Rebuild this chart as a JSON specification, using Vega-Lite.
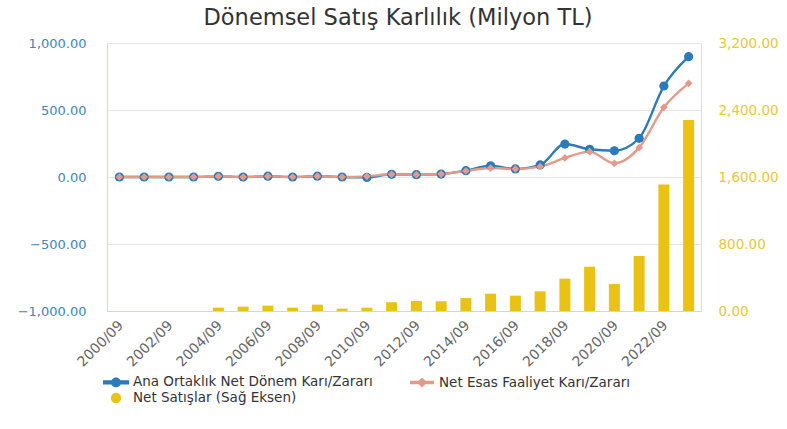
{
  "$schema": "https://vega.github.io/schema/vega-lite/v6.json",
  "width": 594,
  "height": 268,
  "autosize": {"type": "none"},
  "padding": {"left": 107, "top": 43, "right": 86, "bottom": 118},
  "background": "white",
  "title": {"text": "Dönemsel Satış Karlılık (Milyon TL)", "fontSize": 22.5, "fontWeight": "normal", "color": "#333333", "font": "DejaVu Sans", "anchor": "middle", "frame": "group", "baseline": "alphabetic", "offset": -11, "dx": -6},
  "config": {
    "font": "DejaVu Sans",
    "view": {"stroke": null},
    "axis": {"labelFont": "DejaVu Sans", "titleFont": "DejaVu Sans"}
  },
  "data": {
    "values": [
      {"date": "2000/09", "series": "Net Satışlar (Sağ Eksen)", "value": 0},
      {"date": "2001/09", "series": "Net Satışlar (Sağ Eksen)", "value": 0},
      {"date": "2002/09", "series": "Net Satışlar (Sağ Eksen)", "value": 0},
      {"date": "2003/09", "series": "Net Satışlar (Sağ Eksen)", "value": 0},
      {"date": "2004/09", "series": "Net Satışlar (Sağ Eksen)", "value": 40},
      {"date": "2005/09", "series": "Net Satışlar (Sağ Eksen)", "value": 52},
      {"date": "2006/09", "series": "Net Satışlar (Sağ Eksen)", "value": 64},
      {"date": "2007/09", "series": "Net Satışlar (Sağ Eksen)", "value": 40},
      {"date": "2008/09", "series": "Net Satışlar (Sağ Eksen)", "value": 76},
      {"date": "2009/09", "series": "Net Satışlar (Sağ Eksen)", "value": 28},
      {"date": "2010/09", "series": "Net Satışlar (Sağ Eksen)", "value": 40},
      {"date": "2011/09", "series": "Net Satışlar (Sağ Eksen)", "value": 104},
      {"date": "2012/09", "series": "Net Satışlar (Sağ Eksen)", "value": 119},
      {"date": "2013/09", "series": "Net Satışlar (Sağ Eksen)", "value": 116},
      {"date": "2014/09", "series": "Net Satışlar (Sağ Eksen)", "value": 155},
      {"date": "2015/09", "series": "Net Satışlar (Sağ Eksen)", "value": 207},
      {"date": "2016/09", "series": "Net Satışlar (Sağ Eksen)", "value": 183},
      {"date": "2017/09", "series": "Net Satışlar (Sağ Eksen)", "value": 235},
      {"date": "2018/09", "series": "Net Satışlar (Sağ Eksen)", "value": 386},
      {"date": "2019/09", "series": "Net Satışlar (Sağ Eksen)", "value": 529},
      {"date": "2020/09", "series": "Net Satışlar (Sağ Eksen)", "value": 322},
      {"date": "2021/09", "series": "Net Satışlar (Sağ Eksen)", "value": 657},
      {"date": "2022/09", "series": "Net Satışlar (Sağ Eksen)", "value": 1510},
      {"date": "2023/09", "series": "Net Satışlar (Sağ Eksen)", "value": 2281},
      {"date": "2000/09", "series": "Ana Ortaklık Net Dönem Karı/Zararı", "value": 0},
      {"date": "2001/09", "series": "Ana Ortaklık Net Dönem Karı/Zararı", "value": 0},
      {"date": "2002/09", "series": "Ana Ortaklık Net Dönem Karı/Zararı", "value": 0},
      {"date": "2003/09", "series": "Ana Ortaklık Net Dönem Karı/Zararı", "value": 0},
      {"date": "2004/09", "series": "Ana Ortaklık Net Dönem Karı/Zararı", "value": 5},
      {"date": "2005/09", "series": "Ana Ortaklık Net Dönem Karı/Zararı", "value": 0},
      {"date": "2006/09", "series": "Ana Ortaklık Net Dönem Karı/Zararı", "value": 6},
      {"date": "2007/09", "series": "Ana Ortaklık Net Dönem Karı/Zararı", "value": 0},
      {"date": "2008/09", "series": "Ana Ortaklık Net Dönem Karı/Zararı", "value": 6},
      {"date": "2009/09", "series": "Ana Ortaklık Net Dönem Karı/Zararı", "value": 0},
      {"date": "2010/09", "series": "Ana Ortaklık Net Dönem Karı/Zararı", "value": -3},
      {"date": "2011/09", "series": "Ana Ortaklık Net Dönem Karı/Zararı", "value": 20},
      {"date": "2012/09", "series": "Ana Ortaklık Net Dönem Karı/Zararı", "value": 17},
      {"date": "2013/09", "series": "Ana Ortaklık Net Dönem Karı/Zararı", "value": 22},
      {"date": "2014/09", "series": "Ana Ortaklık Net Dönem Karı/Zararı", "value": 47},
      {"date": "2015/09", "series": "Ana Ortaklık Net Dönem Karı/Zararı", "value": 84},
      {"date": "2016/09", "series": "Ana Ortaklık Net Dönem Karı/Zararı", "value": 60},
      {"date": "2017/09", "series": "Ana Ortaklık Net Dönem Karı/Zararı", "value": 90},
      {"date": "2018/09", "series": "Ana Ortaklık Net Dönem Karı/Zararı", "value": 246},
      {"date": "2019/09", "series": "Ana Ortaklık Net Dönem Karı/Zararı", "value": 207},
      {"date": "2020/09", "series": "Ana Ortaklık Net Dönem Karı/Zararı", "value": 196},
      {"date": "2021/09", "series": "Ana Ortaklık Net Dönem Karı/Zararı", "value": 289},
      {"date": "2022/09", "series": "Ana Ortaklık Net Dönem Karı/Zararı", "value": 679},
      {"date": "2023/09", "series": "Ana Ortaklık Net Dönem Karı/Zararı", "value": 898},
      {"date": "2000/09", "series": "Net Esas Faaliyet Karı/Zararı", "value": 0},
      {"date": "2001/09", "series": "Net Esas Faaliyet Karı/Zararı", "value": 0},
      {"date": "2002/09", "series": "Net Esas Faaliyet Karı/Zararı", "value": 0},
      {"date": "2003/09", "series": "Net Esas Faaliyet Karı/Zararı", "value": 0},
      {"date": "2004/09", "series": "Net Esas Faaliyet Karı/Zararı", "value": 5},
      {"date": "2005/09", "series": "Net Esas Faaliyet Karı/Zararı", "value": 0},
      {"date": "2006/09", "series": "Net Esas Faaliyet Karı/Zararı", "value": 6},
      {"date": "2007/09", "series": "Net Esas Faaliyet Karı/Zararı", "value": 0},
      {"date": "2008/09", "series": "Net Esas Faaliyet Karı/Zararı", "value": 6},
      {"date": "2009/09", "series": "Net Esas Faaliyet Karı/Zararı", "value": 0},
      {"date": "2010/09", "series": "Net Esas Faaliyet Karı/Zararı", "value": 5},
      {"date": "2011/09", "series": "Net Esas Faaliyet Karı/Zararı", "value": 20},
      {"date": "2012/09", "series": "Net Esas Faaliyet Karı/Zararı", "value": 17},
      {"date": "2013/09", "series": "Net Esas Faaliyet Karı/Zararı", "value": 22},
      {"date": "2014/09", "series": "Net Esas Faaliyet Karı/Zararı", "value": 45},
      {"date": "2015/09", "series": "Net Esas Faaliyet Karı/Zararı", "value": 67},
      {"date": "2016/09", "series": "Net Esas Faaliyet Karı/Zararı", "value": 60},
      {"date": "2017/09", "series": "Net Esas Faaliyet Karı/Zararı", "value": 77},
      {"date": "2018/09", "series": "Net Esas Faaliyet Karı/Zararı", "value": 142},
      {"date": "2019/09", "series": "Net Esas Faaliyet Karı/Zararı", "value": 189},
      {"date": "2020/09", "series": "Net Esas Faaliyet Karı/Zararı", "value": 102},
      {"date": "2021/09", "series": "Net Esas Faaliyet Karı/Zararı", "value": 219},
      {"date": "2022/09", "series": "Net Esas Faaliyet Karı/Zararı", "value": 520},
      {"date": "2023/09", "series": "Net Esas Faaliyet Karı/Zararı", "value": 699}
    ]
  },
  "encoding": {
    "x": {
      "field": "date",
      "type": "ordinal",
      "scale": {"paddingInner": 0, "paddingOuter": 0},
      "axis": {
        "title": null,
        "values": ["2000/09", "2002/09", "2004/09", "2006/09", "2008/09", "2010/09", "2012/09", "2014/09", "2016/09", "2018/09", "2020/09", "2022/09"],
        "labelAngle": -45,
        "labelColor": "#666666",
        "labelFontSize": 14,
        "labelOffset": -3,
        "ticks": false,
        "labelPadding": 7,
        "domainColor": "#ccd6eb",
        "grid": false
      }
    }
  },
  "layer": [
    {
      "transform": [{"filter": "datum.series === 'Net Satışlar (Sağ Eksen)'"}],
      "mark": {"type": "bar", "size": 11},
      "encoding": {
        "y": {
          "field": "value",
          "type": "quantitative",
          "scale": {"domain": [0, 3200], "nice": false},
          "axis": {
            "orient": "right",
            "title": null,
            "values": [0, 800, 1600, 2400, 3200],
            "format": ",.2f",
            "labelColor": "#e6c83a",
            "labelFontSize": 13.5,
            "ticks": false,
            "labelPadding": 17,
            "domainColor": "#dddddd",
            "grid": false
          }
        },
        "color": {
          "field": "series",
          "type": "nominal",
          "scale": {
            "domain": ["Ana Ortaklık Net Dönem Karı/Zararı", "Net Esas Faaliyet Karı/Zararı", "Net Satışlar (Sağ Eksen)"],
            "range": ["#2b7bba", "#e49a88", "#e9c213"]
          },
          "legend": {
            "orient": "none",
            "legendX": 1,
            "legendY": 331,
            "direction": "horizontal",
            "columns": 2,
            "title": null,
            "labelFont": "DejaVu Sans",
            "labelFontSize": 13.5,
            "labelColor": "#333333",
            "labelLimit": 500,
            "symbolSize": 196,
            "columnPadding": 34,
            "rowPadding": -4,
            "labelOffset": 9,
            "padding": 0,
            "encode": {
              "symbols": {
                "update": {
                  "shape": {"signal": "datum.value === 'Ana Ortaklık Net Dönem Karı/Zararı' ? 'M-1.75,-0.2H1.75V0.2H-1.75Z M0.6,0A0.6,0.6 0 1,1 -0.6,0A0.6,0.6 0 1,1 0.6,0Z' : datum.value === 'Net Esas Faaliyet Karı/Zararı' ? 'M-1.6,-0.15H1.6V0.15H-1.6Z M0,-0.57L0.57,0L0,0.57L-0.57,0Z' : 'M0.63,0A0.63,0.63 0 1,1 -0.63,0A0.63,0.63 0 1,1 0.63,0Z'"},
                  "fill": {"scale": "color", "field": "value"},
                  "stroke": {"value": "transparent"},
                  "opacity": {"value": 1},
                  "fillOpacity": {"value": 1}
                }
              }
            }
          }
        }
      }
    },
    {
      "transform": [{"filter": "datum.series !== 'Net Satışlar (Sağ Eksen)'"}],
      "encoding": {
        "y": {
          "field": "value",
          "type": "quantitative",
          "scale": {"domain": [-1000, 1000], "nice": false},
          "axis": {
            "orient": "left",
            "title": null,
            "values": [-1000, -500, 0, 500, 1000],
            "format": ",.2f",
            "labelColor": "#3d86b8",
            "labelFontSize": 13,
            "ticks": false,
            "labelPadding": 21,
            "domainColor": "#ccd6eb",
            "grid": true,
            "gridColor": "#e6e6e6"
          }
        },
        "color": {"field": "series", "type": "nominal", "legend": null}
      },
      "layer": [
        {
          "mark": {"type": "line", "interpolate": "monotone", "strokeWidth": 2.4},
          "encoding": {}
        },
        {
          "mark": {"type": "point", "filled": true, "opacity": 1},
          "encoding": {
            "shape": {
              "field": "series",
              "type": "nominal",
              "scale": {"domain": ["Ana Ortaklık Net Dönem Karı/Zararı", "Net Esas Faaliyet Karı/Zararı"], "range": ["circle", "diamond"]},
              "legend": null
            },
            "size": {
              "field": "series",
              "type": "nominal",
              "scale": {"domain": ["Ana Ortaklık Net Dönem Karı/Zararı", "Net Esas Faaliyet Karı/Zararı"], "range": [85, 60]},
              "legend": null
            }
          }
        }
      ]
    }
  ],
  "resolve": {"scale": {"y": "independent"}}
}
